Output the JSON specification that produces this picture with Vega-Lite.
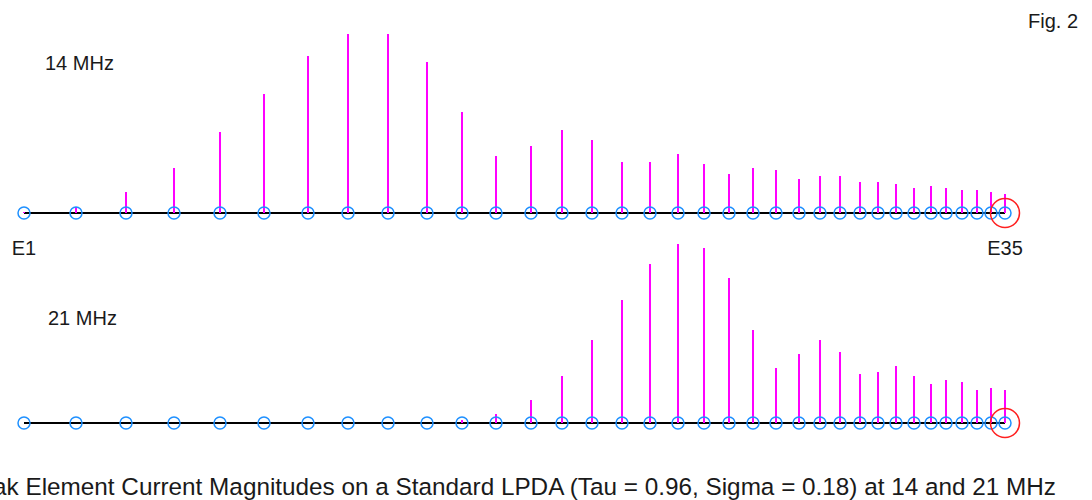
{
  "$schema": "https://vega.github.io/schema/vega-lite/v6.json",
  "padding": 0,
  "spacing": 0,
  "bounds": "flush",
  "background": "white",
  "config": {
    "view": {"stroke": null},
    "concat": {"spacing": 0},
    "text": {"font": "Liberation Sans", "color": "#1a1a1a"}
  },
  "datasets": {
    "el": [
      {"element": 1, "name": "E1", "pos": 24, "i14": 1, "i21": 0},
      {"element": 2, "name": "E2", "pos": 76, "i14": 6, "i21": 0},
      {"element": 3, "name": "E3", "pos": 126, "i14": 21, "i21": 0},
      {"element": 4, "name": "E4", "pos": 174, "i14": 45, "i21": 0},
      {"element": 5, "name": "E5", "pos": 220, "i14": 81, "i21": 0},
      {"element": 6, "name": "E6", "pos": 264, "i14": 119, "i21": 0},
      {"element": 7, "name": "E7", "pos": 308, "i14": 157, "i21": 0},
      {"element": 8, "name": "E8", "pos": 348, "i14": 179, "i21": 0},
      {"element": 9, "name": "E9", "pos": 388, "i14": 179, "i21": 0},
      {"element": 10, "name": "E10", "pos": 427, "i14": 151, "i21": 0},
      {"element": 11, "name": "E11", "pos": 462, "i14": 101, "i21": 3},
      {"element": 12, "name": "E12", "pos": 496, "i14": 57, "i21": 9},
      {"element": 13, "name": "E13", "pos": 531, "i14": 67, "i21": 23},
      {"element": 14, "name": "E14", "pos": 562, "i14": 83, "i21": 47},
      {"element": 15, "name": "E15", "pos": 592, "i14": 73, "i21": 83},
      {"element": 16, "name": "E16", "pos": 622, "i14": 51, "i21": 123},
      {"element": 17, "name": "E17", "pos": 650, "i14": 51, "i21": 159},
      {"element": 18, "name": "E18", "pos": 678, "i14": 59, "i21": 179},
      {"element": 19, "name": "E19", "pos": 704, "i14": 49, "i21": 175},
      {"element": 20, "name": "E20", "pos": 729, "i14": 39, "i21": 145},
      {"element": 21, "name": "E21", "pos": 753, "i14": 45, "i21": 93},
      {"element": 22, "name": "E22", "pos": 776, "i14": 43, "i21": 55},
      {"element": 23, "name": "E23", "pos": 799, "i14": 34, "i21": 69},
      {"element": 24, "name": "E24", "pos": 820, "i14": 37, "i21": 83},
      {"element": 25, "name": "E25", "pos": 840, "i14": 37, "i21": 71},
      {"element": 26, "name": "E26", "pos": 860, "i14": 31, "i21": 49},
      {"element": 27, "name": "E27", "pos": 878, "i14": 31, "i21": 51},
      {"element": 28, "name": "E28", "pos": 896, "i14": 29, "i21": 57},
      {"element": 29, "name": "E29", "pos": 914, "i14": 25, "i21": 47},
      {"element": 30, "name": "E30", "pos": 931, "i14": 27, "i21": 39},
      {"element": 31, "name": "E31", "pos": 946, "i14": 25, "i21": 43},
      {"element": 32, "name": "E32", "pos": 962, "i14": 23, "i21": 41},
      {"element": 33, "name": "E33", "pos": 977, "i14": 23, "i21": 33},
      {"element": 34, "name": "E34", "pos": 991, "i14": 21, "i21": 35},
      {"element": 35, "name": "E35", "pos": 1005, "i14": 19, "i21": 33}
    ]
  },
  "vconcat": [
    {
      "width": 1092,
      "height": 260,
      "data": {"name": "el"},
      "encoding": {
        "x": {"field": "pos", "type": "quantitative", "scale": {"domain": [0, 1092], "nice": false, "zero": false}, "axis": null}
      },
      "layer": [
        {
          "mark": {"type": "line", "color": "#000000", "strokeWidth": 2},
          "encoding": {"y": {"datum": 0, "type": "quantitative", "scale": {"domain": [-47, 213], "nice": false}, "axis": null}}
        },
        {
          "mark": {"type": "rule", "color": "#ff00ff", "strokeWidth": 2},
          "encoding": {
            "y": {"field": "i14", "type": "quantitative", "scale": {"domain": [-47, 213], "nice": false}, "axis": null},
            "y2": {"datum": 0}
          }
        },
        {
          "mark": {"type": "point", "shape": "circle", "filled": false, "color": "#1e90ff", "strokeWidth": 1.5, "size": 144, "opacity": 1},
          "encoding": {"y": {"datum": 0, "type": "quantitative", "scale": {"domain": [-47, 213], "nice": false}, "axis": null}}
        },
        {
          "transform": [{"filter": "datum.element == 35"}],
          "mark": {"type": "point", "shape": "circle", "filled": false, "color": "#ff2020", "strokeWidth": 1.5, "size": 841, "opacity": 1},
          "encoding": {"y": {"datum": 0, "type": "quantitative", "scale": {"domain": [-47, 213], "nice": false}, "axis": null}}
        },
        {
          "transform": [{"filter": "datum.element == 1 || datum.element == 35"}],
          "mark": {"type": "text", "fontSize": 20, "align": "center", "baseline": "alphabetic"},
          "encoding": {
            "y": {"datum": -42, "type": "quantitative", "scale": {"domain": [-47, 213], "nice": false}, "axis": null},
            "text": {"field": "name"}
          }
        },
        {
          "transform": [{"filter": "datum.element == 1"}],
          "mark": {"type": "text", "text": "14 MHz", "fontSize": 20, "align": "left", "baseline": "alphabetic"},
          "encoding": {
            "x": {"datum": 45, "type": "quantitative", "scale": {"domain": [0, 1092], "nice": false, "zero": false}, "axis": null},
            "y": {"datum": 143, "type": "quantitative", "scale": {"domain": [-47, 213], "nice": false}, "axis": null}
          }
        },
        {
          "transform": [{"filter": "datum.element == 1"}],
          "mark": {"type": "text", "text": "Fig. 2", "fontSize": 20, "align": "left", "baseline": "alphabetic"},
          "encoding": {
            "x": {"datum": 1028, "type": "quantitative", "scale": {"domain": [0, 1092], "nice": false, "zero": false}, "axis": null},
            "y": {"datum": 185, "type": "quantitative", "scale": {"domain": [-47, 213], "nice": false}, "axis": null}
          }
        }
      ]
    },
    {
      "width": 1092,
      "height": 240,
      "data": {"name": "el"},
      "encoding": {
        "x": {"field": "pos", "type": "quantitative", "scale": {"domain": [0, 1092], "nice": false, "zero": false}, "axis": null}
      },
      "layer": [
        {
          "mark": {"type": "line", "color": "#000000", "strokeWidth": 2},
          "encoding": {"y": {"datum": 0, "type": "quantitative", "scale": {"domain": [-77, 163], "nice": false}, "axis": null}}
        },
        {
          "mark": {"type": "rule", "color": "#ff00ff", "strokeWidth": 2},
          "encoding": {
            "y": {"field": "i21", "type": "quantitative", "scale": {"domain": [-77, 163], "nice": false}, "axis": null},
            "y2": {"datum": 0}
          }
        },
        {
          "mark": {"type": "point", "shape": "circle", "filled": false, "color": "#1e90ff", "strokeWidth": 1.5, "size": 144, "opacity": 1},
          "encoding": {"y": {"datum": 0, "type": "quantitative", "scale": {"domain": [-77, 163], "nice": false}, "axis": null}}
        },
        {
          "transform": [{"filter": "datum.element == 35"}],
          "mark": {"type": "point", "shape": "circle", "filled": false, "color": "#ff2020", "strokeWidth": 1.5, "size": 841, "opacity": 1},
          "encoding": {"y": {"datum": 0, "type": "quantitative", "scale": {"domain": [-77, 163], "nice": false}, "axis": null}}
        },
        {
          "transform": [{"filter": "datum.element == 1"}],
          "mark": {"type": "text", "text": "21 MHz", "fontSize": 20, "align": "left", "baseline": "alphabetic"},
          "encoding": {
            "x": {"datum": 48, "type": "quantitative", "scale": {"domain": [0, 1092], "nice": false, "zero": false}, "axis": null},
            "y": {"datum": 98, "type": "quantitative", "scale": {"domain": [-77, 163], "nice": false}, "axis": null}
          }
        },
        {
          "transform": [{"filter": "datum.element == 1"}],
          "mark": {"type": "text", "text": "Peak Element Current Magnitudes on a Standard LPDA (Tau = 0.96, Sigma = 0.18) at 14 and 21 MHz", "fontSize": 24.3, "align": "right", "baseline": "alphabetic", "clip": true},
          "encoding": {
            "x": {"datum": 1056, "type": "quantitative", "scale": {"domain": [0, 1092], "nice": false, "zero": false}, "axis": null},
            "y": {"datum": -72, "type": "quantitative", "scale": {"domain": [-77, 163], "nice": false}, "axis": null}
          }
        }
      ]
    }
  ]
}
